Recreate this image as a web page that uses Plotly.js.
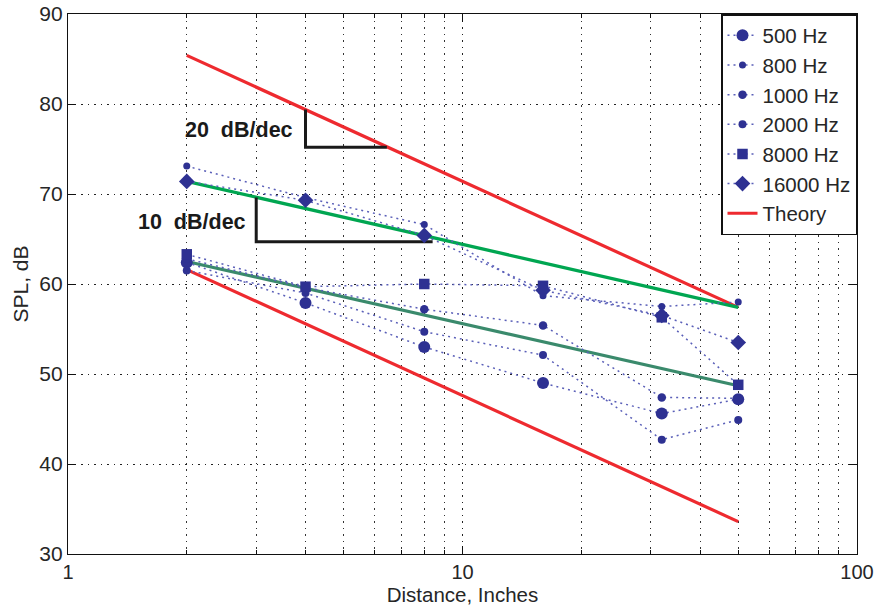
<!DOCTYPE html>
<html>
<head>
<meta charset="utf-8">
<script src="https://cdn.plot.ly/plotly-3.0.1.min.js"></script>
<style>html,body{margin:0;padding:0;background:#fff;}#chart{width:877px;height:607px;}</style>
</head>
<body>
<div id="chart"></div>
<script>
// Distances (inches)
var distance = [2, 4, 8, 16, 32, 50];
// Measured SPL (dB) per frequency
var spl500 = [62.4, 57.9, 53.0, 49.0, 45.6, 47.2];
var spl800 = [73.1, 69.6, 66.6, 58.7, 57.5, 58.0];
var spl1000 = [62.8, 59.6, 57.2, 55.4, 47.4, 47.3];
var spl2000 = [61.5, 59.0, 54.7, 52.1, 42.7, 44.9];
var spl8000 = [63.3, 59.7, 60.0, 59.8, 56.3, 48.8];
var spl16000 = [71.4, 69.3, 65.4, 59.3, 56.5, 53.5];
var seriesNames = ["500 Hz", "800 Hz", "1000 Hz", "2000 Hz", "8000 Hz", "16000 Hz"];

// Theory lines (20 dB/dec), endpoints at 2 and 50 inches
var theoryX = [2, 50, null, 2, 50];
var theoryY = [85.4, 57.4, null, 61.6, 33.6];
// 10 dB/dec fit lines
var fitX = [2, 50];
var fitUpperY = [71.4, 57.4];
var fitLowerY = [62.5, 48.7];
// Slope brackets
var bracket20X = [4, 4, 6.43];
var bracket20Y = [79.4, 75.2, 75.2];
var bracket10X = [3, 3, 8.4];
var bracket10Y = [69.6, 64.7, 64.7];

var xTicks = [1, 10, 100];
var xMinor = [2,3,4,5,6,7,8,9,20,30,40,50,60,70,80,90];
var yTicks = [30, 40, 50, 60, 70, 80, 90];

var navy = "#2E3192";
var dotLine = {color: "#5A5FB8", width: 1.5, dash: "2px,4px"};
var symbols = ["circle", "circle", "circle", "circle", "square", "diamond"];
var sizes = [12, 7, 8.5, 8, 10.5, 12];
var values = [spl500, spl800, spl1000, spl2000, spl8000, spl16000];

var traces = [];
traces.push({x: theoryX, y: theoryY, mode: "lines", name: "Theory", line: {color: "#EE2A2F", width: 3.2}, legendrank: 10, connectgaps: false});
traces.push({x: fitX, y: fitUpperY, mode: "lines", showlegend: false, line: {color: "#00A651", width: 3.2}});
traces.push({x: fitX, y: fitLowerY, mode: "lines", showlegend: false, line: {color: "#3A8A6C", width: 3.2}});
traces.push({x: bracket20X, y: bracket20Y, mode: "lines", showlegend: false, line: {color: "#1a1a1a", width: 3}});
traces.push({x: bracket10X, y: bracket10Y, mode: "lines", showlegend: false, line: {color: "#1a1a1a", width: 3}});
for (var i = 0; i < values.length; i++) {
  traces.push({x: distance, y: values[i], mode: "lines+markers", name: seriesNames[i], legendrank: i + 1,
    line: dotLine, marker: {symbol: symbols[i], size: sizes[i], color: navy}});
}

var fam = "Liberation Sans, Arial, sans-serif";
var font = {family: fam, size: 21, color: "#262626"};
var gridDash = "1.5px,5px";
var layout = {
  width: 877, height: 607,
  margin: {l: 68, r: 20, t: 14, b: 53},
  paper_bgcolor: "#fff", plot_bgcolor: "#fff",
  font: font,
  showlegend: true,
  legend: {x: 1, xanchor: "right", y: 1, yanchor: "top", bgcolor: "#fff", bordercolor: "#111", borderwidth: 1.5,
    font: {family: fam, size: 20.5, color: "#262626"}, itemwidth: 30, tracegroupgap: 0},
  xaxis: {type: "log", range: [0, 2], tickmode: "array", tickvals: xTicks, ticktext: ["1", "10", "100"],
    tickfont: {family: fam, size: 20, color: "#262626"},
    showline: true, linecolor: "#111", linewidth: 1.2, mirror: "ticks", ticks: "inside", ticklen: 8, tickcolor: "#111",
    showgrid: true, gridcolor: "#222", griddash: gridDash, gridwidth: 1, zeroline: false,
    minor: {tickmode: "array", tickvals: xMinor, ticks: "inside", ticklen: 4, tickcolor: "#111", showgrid: true, gridcolor: "#333", griddash: gridDash, gridwidth: 1},
    title: {text: "Distance, Inches", font: {family: fam, size: 20.5, color: "#262626"}, standoff: 3}},
  yaxis: {range: [30, 90], tickmode: "array", tickvals: yTicks,
    showline: true, linecolor: "#111", linewidth: 1.2, mirror: "ticks", ticks: "inside", ticklen: 8, tickcolor: "#111",
    showgrid: true, gridcolor: "#222", griddash: gridDash, gridwidth: 1, zeroline: false,
    title: {text: "SPL, dB", font: font, standoff: 4}},
  annotations: [
    {x: Math.log10(3.77), y: 77.1, xref: "x", yref: "y", text: "<b>20\u00a0\u00a0dB/dec</b>", showarrow: false, xanchor: "right",
      font: {family: fam, size: 21.5, color: "#1a1a1a"}},
    {x: Math.log10(2.86), y: 66.9, xref: "x", yref: "y", text: "<b>10\u00a0\u00a0dB/dec</b>", showarrow: false, xanchor: "right",
      font: {family: fam, size: 21.5, color: "#1a1a1a"}}
  ]
};
Plotly.newPlot("chart", traces, layout, {displayModeBar: false, staticPlot: true});
</script>
</body>
</html>
